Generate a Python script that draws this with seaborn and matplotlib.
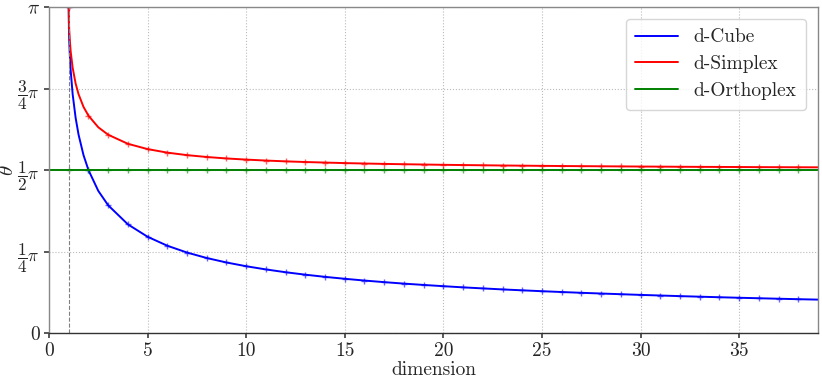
import numpy as np
import pandas as pd
import matplotlib
matplotlib.use("Agg")
import matplotlib.pyplot as plt
import seaborn as sns

# dimension values (fractional ones near d=1 trace the steep part)
dims = [1.0, 1.01, 1.025, 1.05, 1.1, 1.2, 1.35, 1.5, 1.75, 2.0, 2.5,
        3, 4, 5, 6, 7, 8, 9, 10, 11, 12, 13, 14, 15, 16, 17, 18, 19, 20,
        21, 22, 23, 24, 25, 26, 27, 28, 29, 30, 31, 32, 33, 34, 35, 36,
        37, 38, 39]
# angles in units of pi
cube = [1.0, 0.9366, 0.9004, 0.8600, 0.8050, 0.7323, 0.6600, 0.6082, 0.5456, 0.5, 0.4359,
        0.3918, 0.3333, 0.2952, 0.2677, 0.2468, 0.2300, 0.2163, 0.2048, 0.1950, 0.1864,
        0.1789, 0.1722, 0.1663, 0.1609, 0.1560, 0.1515, 0.1474, 0.1436, 0.1400, 0.1368,
        0.1337, 0.1309, 0.1282, 0.1257, 0.1233, 0.1211, 0.1190, 0.1169, 0.1150, 0.1131,
        0.1114, 0.1097, 0.1081, 0.1066, 0.1051, 0.1037, 0.1024]
simplex = [1.0, 0.9553, 0.9293, 0.9019, 0.8632, 0.8136, 0.7653, 0.7323, 0.6936, 0.6667, 0.6310,
           0.6082, 0.5804, 0.5641, 0.5533, 0.5456, 0.5399, 0.5354, 0.5319, 0.5290, 0.5265,
           0.5245, 0.5228, 0.5212, 0.5199, 0.5187, 0.5177, 0.5168, 0.5159, 0.5152, 0.5145,
           0.5138, 0.5133, 0.5127, 0.5122, 0.5118, 0.5114, 0.5110, 0.5106, 0.5103, 0.5099,
           0.5096, 0.5094, 0.5091, 0.5088, 0.5086, 0.5084, 0.5082]
ortho_dims = [0, 1, 2, 3, 4, 5, 6, 7, 8, 9, 10, 11, 12, 13, 14, 15, 16, 17, 18, 19, 20,
              21, 22, 23, 24, 25, 26, 27, 28, 29, 30, 31, 32, 33, 34, 35, 36, 37, 38, 39]
orthoplex = [0.5] * len(ortho_dims)

labels = ["d-Cube", "d-Simplex", "d-Orthoplex"]
colors = ["blue", "red", "green"]
xticks = [0, 5, 10, 15, 20, 25, 30, 35]
yticks = [0, 0.25, 0.5, 0.75, 1.0]
yticklabels = ["0", r"$\dfrac{1}{4}\pi$", r"$\dfrac{1}{2}\pi$", r"$\dfrac{3}{4}\pi$", r"$\pi$"]

sns.set_theme(style="whitegrid")
plt.rcParams["font.family"] = ["serif"]
plt.rcParams["font.serif"] = ["cmr10"]
plt.rcParams["mathtext.fontset"] = "cm"
plt.rcParams["axes.formatter.use_mathtext"] = True

fig, ax = plt.subplots(figsize=(8.22, 3.82), dpi=100)
fig.subplots_adjust(left=49/822, right=818/822, top=1-7/382, bottom=1-333/382)

series = [
    pd.DataFrame({"d": dims, "v": cube}),
    pd.DataFrame({"d": dims, "v": simplex}),
    pd.DataFrame({"d": ortho_dims, "v": orthoplex}),
]
for df, lab, col in zip(series, labels, colors):
    sns.lineplot(x=df["d"], y=df["v"] * np.pi, color=col, lw=1.4, label=lab, ax=ax)
    sub = df[(df["d"] == df["d"].round()) & (df["d"] >= 1) & (df["d"] <= 38)]
    ax.plot(sub["d"], sub["v"] * np.pi, ls="none", marker="+", ms=5, mew=1.0,
            color=col, alpha=0.6)

ax.axvline(1, color="gray", ls="--", lw=0.8)

ax.set_xlim(0, 39)
ax.set_ylim(0, np.pi)
ax.set_xticks(xticks)
ax.set_xticklabels([str(t) for t in xticks])
ax.set_yticks([t * np.pi for t in yticks])
ax.set_yticklabels(yticklabels)
ax.tick_params(axis="x", labelsize=14, length=3.5, pad=3, color="#444444", bottom=True)
ax.tick_params(axis="y", labelsize=12.5, length=3.5, pad=3, color="#444444", left=True)
ax.get_yticklabels()[0].set_fontsize(14)
ax.get_yticklabels()[-1].set_fontsize(14)
ax.grid(True, ls=":", color="#bbbbbb", lw=0.8)
for name, s in ax.spines.items():
    s.set_color("#333333" if name == "bottom" else "#888888")
    s.set_linewidth(1.0)

ax.set_xlabel("dimension", fontsize=14, labelpad=1)
ax.set_ylabel(r"$\theta$", fontsize=15)
ax.yaxis.set_label_coords(-0.042, 0.5)

leg = ax.legend(loc="upper right", fontsize=14, frameon=True, fancybox=True,
                borderpad=0.5, handlelength=2.2, handletextpad=0.8,
                labelspacing=0.45, borderaxespad=0.6)
leg.get_frame().set_edgecolor("#cccccc")

fig.savefig("out.png", dpi=100)
